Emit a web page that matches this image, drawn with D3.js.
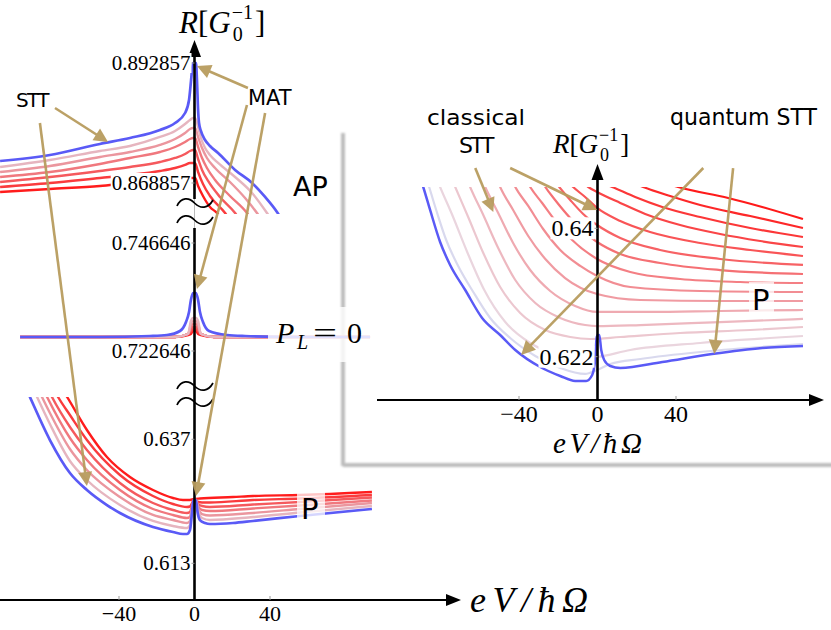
<!DOCTYPE html>
<html><head><meta charset="utf-8">
<script src="https://cdn.jsdelivr.net/npm/d3@7"></script>
<style>body{margin:0;background:#fff}svg{display:block}</style>
</head><body>
<svg id="c" width="831" height="630" xmlns="http://www.w3.org/2000/svg"></svg>
<script>
// ---------------- DATA (x = eV/ħΩ, y = R in units of G0^-1) ----------------
// AP branch (main panel, top segment): blue first, then pale pink -> red
const apSeries = [
 [[-103.0,0.87326],[-76.6,0.87446],[-50.1,0.87666],[-34.2,0.87786],[-18.3,0.87946],[-10.3,0.88086],[-5.0,0.88286],[-2.9,0.88546],[-1.9,0.88906],[-1.3,0.89146],[-0.8,0.89286],[0.8,0.89286],[1.3,0.88946],[1.9,0.88346],[2.4,0.88086],[3.4,0.87926],[5.6,0.87746],[8.2,0.87626],[12.5,0.87486],[21.5,0.87146],[30.5,0.86886],[37.4,0.86606],[43.7,0.86306],[47.9,0.86046]],
 [[-103.0,0.87206],[-76.6,0.87346],[-50.1,0.87526],[-34.2,0.87626],[-18.3,0.87806],[-10.3,0.87926],[-5.0,0.88066],[-2.4,0.88146],[-0.8,0.88186],[0.3,0.88186],[1.9,0.88006],[3.4,0.87786],[5.6,0.87586],[8.2,0.87446],[12.5,0.87286],[21.5,0.87006],[30.5,0.86686],[38.4,0.86286],[42.6,0.86046]],
 [[-103.0,0.87106],[-76.6,0.87226],[-50.1,0.87406],[-34.2,0.87506],[-18.3,0.87646],[-10.3,0.87766],[-5.0,0.87886],[-2.4,0.87966],[-0.8,0.87986],[0.3,0.87986],[1.9,0.87806],[4.0,0.87586],[6.6,0.87386],[10.9,0.87186],[18.8,0.86906],[26.8,0.86586],[33.1,0.86286],[37.4,0.86046]],
 [[-103.0,0.87006],[-76.6,0.87106],[-50.1,0.87266],[-34.2,0.87386],[-18.3,0.87506],[-10.3,0.87606],[-5.0,0.87706],[-2.4,0.87766],[-0.8,0.87786],[0.3,0.87786],[1.9,0.87606],[4.0,0.87386],[6.6,0.87186],[10.9,0.86946],[18.8,0.86626],[27.8,0.86286],[32.1,0.86046]],
 [[-103.0,0.86906],[-76.6,0.87006],[-50.1,0.87126],[-34.2,0.87206],[-18.3,0.87306],[-10.3,0.87386],[-5.0,0.87466],[-2.4,0.87526],[-0.8,0.87546],[0.3,0.87546],[1.9,0.87366],[4.0,0.87146],[7.2,0.86926],[13.5,0.86606],[21.5,0.86286],[25.7,0.86046]],
 [[-103.0,0.86806],[-76.6,0.86886],[-50.1,0.86986],[-34.2,0.87046],[-18.3,0.87126],[-10.3,0.87186],[-5.0,0.87246],[-2.4,0.87286],[-0.8,0.87286],[0.3,0.87286],[1.9,0.87106],[4.5,0.86866],[8.2,0.86626],[16.2,0.86286],[20.4,0.86046]],
 [[-103.0,0.86706],[-76.6,0.86766],[-50.1,0.86826],[-34.2,0.86886],[-18.3,0.86926],[-10.3,0.86946],[-5.0,0.86966],[-2.4,0.86986],[-0.8,0.86986],[0.3,0.86986],[1.9,0.86826],[4.5,0.86626],[8.2,0.86406],[11.9,0.86286],[16.2,0.86046]]
];
// P_L = 0 (main panel, middle segment)
const midSeries = [
 [[-92.4,0.72576],[-50.1,0.72576],[-23.6,0.72598],[-14.6,0.72620],[-7.7,0.72709],[-4.5,0.72909],[-2.9,0.73131],[-1.9,0.73398],[-0.8,0.73554],[0.8,0.73554],[1.9,0.73398],[2.9,0.73131],[4.5,0.72909],[7.7,0.72709],[17.2,0.72620],[26.8,0.72598],[55.9,0.72576],[93.0,0.72576]],
 [[-92.4,0.72576],[-10.3,0.72576],[-3.4,0.72642],[-1.9,0.72931],[-0.8,0.72998],[0.8,0.72998],[1.9,0.72931],[3.4,0.72642],[10.3,0.72576],[93.0,0.72576]],
 [[-92.4,0.72576],[-10.3,0.72576],[-3.4,0.72642],[-1.9,0.72865],[-0.8,0.72931],[0.8,0.72931],[1.9,0.72865],[3.4,0.72642],[10.3,0.72576],[93.0,0.72576]],
 [[-92.4,0.72576],[-10.3,0.72576],[-3.4,0.72642],[-1.9,0.72798],[-0.8,0.72865],[0.8,0.72865],[1.9,0.72798],[3.4,0.72642],[10.3,0.72576],[93.0,0.72576]],
 [[-92.4,0.72576],[-10.3,0.72576],[-3.4,0.72642],[-1.9,0.72731],[-0.8,0.72798],[0.8,0.72798],[1.9,0.72731],[3.4,0.72642],[10.3,0.72576],[93.0,0.72576]],
 [[-92.4,0.72576],[-10.3,0.72576],[-3.4,0.72642],[-1.9,0.72687],[-0.8,0.72754],[0.8,0.72754],[1.9,0.72687],[3.4,0.72642],[10.3,0.72576],[93.0,0.72576]],
 [[-92.4,0.72576],[-10.3,0.72576],[-3.4,0.72620],[-1.9,0.72642],[-0.8,0.72709],[0.8,0.72709],[1.9,0.72642],[3.4,0.72620],[10.3,0.72576],[93.0,0.72576]]
];
// P branch (main panel, bottom segment): blue first (lowest), then pale pink -> red (top)
const pSeries = [
 [[-92.4,0.64945],[-87.2,0.64519],[-76.6,0.63686],[-66.0,0.63048],[-57.0,0.62719],[-46.4,0.62428],[-39.5,0.62274],[-22.0,0.62003],[-11.4,0.61906],[-6.1,0.61867],[-4.0,0.61867],[-2.4,0.61944],[-1.3,0.62293],[-0.5,0.62525],[0.8,0.62525],[1.6,0.62293],[2.9,0.62138],[5.6,0.62080],[8.2,0.62061],[20.4,0.62080],[31.0,0.62119],[55.9,0.62215],[94.0,0.62351]],
 [[-88.7,0.64945],[-83.4,0.64519],[-76.6,0.63996],[-66.0,0.63280],[-57.0,0.62912],[-39.5,0.62428],[-22.0,0.62119],[-11.4,0.62022],[-4.0,0.61983],[-2.4,0.62041],[-1.3,0.62332],[-0.3,0.62525],[0.8,0.62525],[1.9,0.62332],[4.0,0.62177],[8.2,0.62138],[31.0,0.62196],[55.9,0.62283],[94.0,0.62409]],
 [[-86.1,0.64925],[-80.8,0.64519],[-76.6,0.64209],[-66.0,0.63512],[-57.0,0.63106],[-39.5,0.62583],[-22.0,0.62235],[-11.4,0.62138],[-4.0,0.62080],[-2.4,0.62119],[-1.3,0.62370],[-0.3,0.62525],[0.8,0.62525],[1.9,0.62370],[4.0,0.62254],[8.2,0.62225],[31.0,0.62274],[55.9,0.62351],[94.0,0.62467]],
 [[-83.4,0.64925],[-78.1,0.64519],[-66.0,0.63725],[-57.0,0.63299],[-39.5,0.62719],[-22.0,0.62351],[-11.4,0.62235],[-4.0,0.62177],[-2.4,0.62196],[-1.3,0.62390],[-0.3,0.62525],[0.8,0.62525],[1.9,0.62409],[4.0,0.62332],[8.2,0.62312],[31.0,0.62361],[55.9,0.62419],[94.0,0.62516]],
 [[-80.8,0.64925],[-75.5,0.64519],[-66.0,0.63938],[-57.0,0.63493],[-39.5,0.62854],[-22.0,0.62467],[-11.4,0.62332],[-4.0,0.62274],[-2.4,0.62293],[-1.3,0.62428],[-0.3,0.62525],[0.8,0.62525],[1.9,0.62448],[4.0,0.62409],[8.2,0.62390],[31.0,0.62438],[55.9,0.62486],[94.0,0.62574]],
 [[-77.6,0.64886],[-72.3,0.64519],[-66.0,0.64170],[-57.0,0.63686],[-39.5,0.63009],[-22.0,0.62603],[-11.4,0.62448],[-4.0,0.62390],[-2.4,0.62399],[-1.3,0.62467],[-0.3,0.62525],[0.8,0.62525],[1.9,0.62486],[4.0,0.62477],[8.2,0.62477],[31.0,0.62525],[55.9,0.62554],[94.0,0.62622]],
 [[-73.9,0.64886],[-67.5,0.64519],[-57.0,0.63880],[-46.4,0.63357],[-34.2,0.62970],[-22.0,0.62719],[-11.4,0.62564],[-6.1,0.62525],[-2.4,0.62525],[-0.3,0.62545],[2.9,0.62554],[20.4,0.62583],[31.0,0.62603],[55.9,0.62622],[94.0,0.62680]]
];
// Inset (P branch, classical vs quantum STT): blue, lavender, then pale pink -> red
const insetSeries = [
 [[-91.4,0.64789],[-88.8,0.64579],[-85.3,0.64257],[-80.2,0.63808],[-75.1,0.63486],[-67.4,0.63135],[-58.8,0.62743],[-49.6,0.62504],[-41.9,0.62294],[-29.2,0.62056],[-19.0,0.61930],[-11.4,0.61860],[-5.8,0.61860],[-2.7,0.61944],[-1.2,0.62154],[-0.4,0.62476],[0.1,0.62504],[0.9,0.62504],[1.9,0.62294],[3.4,0.62154],[6.5,0.62070],[11.6,0.62042],[33.0,0.62126],[58.4,0.62238],[83.9,0.62322],[104.7,0.62350]],
 [[-88.3,0.64789],[-85.8,0.64579],[-82.2,0.64257],[-77.1,0.63836],[-71.0,0.63472],[-63.3,0.63107],[-54.7,0.62743],[-44.5,0.62462],[-31.7,0.62210],[-19.0,0.62042],[-6.3,0.61958],[-0.2,0.62014],[6.5,0.62098],[21.8,0.62168],[52.3,0.62266],[82.9,0.62336],[104.7,0.62378]],
 [[-83.7,0.64817],[-80.2,0.64579],[-74.0,0.64186],[-66.4,0.63668],[-57.7,0.63135],[-47.0,0.62686],[-34.3,0.62392],[-21.6,0.62238],[-8.8,0.62182],[-0.2,0.62196],[16.7,0.62294],[52.3,0.62392],[104.7,0.62490]],
 [[-76.1,0.64817],[-72.5,0.64579],[-65.9,0.64158],[-58.2,0.63654],[-49.6,0.63177],[-39.4,0.62813],[-26.6,0.62574],[-13.9,0.62476],[-3.7,0.62448],[11.6,0.62476],[42.1,0.62532],[77.8,0.62574],[104.7,0.62616]],
 [[-68.4,0.64817],[-64.9,0.64579],[-58.2,0.64186],[-50.6,0.63724],[-41.9,0.63275],[-31.7,0.62953],[-19.0,0.62743],[-6.3,0.62644],[-0.2,0.62630],[21.8,0.62644],[62.5,0.62686],[104.7,0.62729]],
 [[-60.8,0.64817],[-57.2,0.64579],[-50.6,0.64215],[-43.0,0.63794],[-34.3,0.63415],[-24.1,0.63121],[-11.4,0.62911],[-0.2,0.62827],[26.8,0.62827],[62.5,0.62841],[104.7,0.62855]],
 [[-53.1,0.64817],[-49.6,0.64579],[-43.0,0.64257],[-35.3,0.63892],[-26.6,0.63570],[-16.5,0.63303],[-0.2,0.63079],[21.8,0.62995],[62.5,0.62981],[104.7,0.62981]],
 [[-45.5,0.64789],[-41.9,0.64579],[-35.3,0.64313],[-27.7,0.63990],[-19.0,0.63696],[-8.8,0.63472],[-0.2,0.63331],[16.7,0.63177],[52.3,0.63121],[104.7,0.63107]],
 [[-38.4,0.64789],[-34.3,0.64579],[-28.2,0.64355],[-21.0,0.64088],[-12.9,0.63836],[-0.2,0.63570],[16.7,0.63387],[42.1,0.63289],[72.7,0.63247],[104.7,0.63233]],
 [[-30.7,0.64775],[-26.6,0.64579],[-21.6,0.64397],[-13.9,0.64144],[-6.3,0.63934],[-0.2,0.63808],[11.6,0.63640],[31.9,0.63514],[62.5,0.63415],[104.7,0.63359]],
 [[-24.1,0.64747],[-19.5,0.64579],[-13.9,0.64397],[-7.3,0.64201],[-0.2,0.64046],[11.6,0.63864],[31.9,0.63696],[62.5,0.63570],[104.7,0.63486]],
 [[-17.5,0.64733],[-12.4,0.64579],[-6.3,0.64439],[-0.2,0.64285],[11.6,0.64102],[26.8,0.63948],[52.3,0.63794],[77.8,0.63696],[104.7,0.63612]],
 [[-9.8,0.64705],[-4.7,0.64579],[-0.2,0.64509],[11.6,0.64355],[24.3,0.64201],[42.1,0.64046],[62.5,0.63920],[82.9,0.63822],[104.7,0.63738]],
 [[2.4,0.64635],[7.5,0.64579],[19.2,0.64439],[33.0,0.64299],[52.3,0.64158],[77.8,0.64004],[104.7,0.63878]],
 [[18.2,0.64635],[23.3,0.64579],[37.0,0.64453],[52.3,0.64327],[77.8,0.64172],[104.7,0.64004]],
 [[34.5,0.64635],[41.1,0.64579],[66.6,0.64425],[83.9,0.64299],[104.7,0.64130]]
];
// tick values and labels
const mainXTicks = [-40, 0, 40];
const apTicks = [0.892857, 0.868857];
const midTicks = [0.746646, 0.722646];
const pTicks = [0.637, 0.613];
const insetXTicks = [-40, 0, 40];
const insetYTicks = [0.64, 0.622];
// annotation arrows [segment, x, R] -> [segment, x, R]
const mainArrows = [
 [["AP",-73.9,0.88386],["AP",-45.8,0.87706]],
 [["AP",-81.9,0.88086],["P",-57.0,0.62796]],
 [["AP",28.3,0.88786],["AP",1.3,0.89226]],
 [["AP",27.8,0.88446],["MID",1.3,0.73640]],
 [["AP",37.4,0.88286],["P",0.8,0.62603]]
];
const insetArrows = [
 [[-62.3,0.64845],[-53.1,0.64229]],
 [[-44.5,0.64845],[-0.2,0.64257]],
 [[53.9,0.64845],[-38.9,0.62224]],
 [[69.1,0.64845],[59.5,0.62238]]
];

// ---------------- SCALES ----------------
const xMain = d3.scaleLinear().domain([-40,40]).range([119,270]);
const yAP = d3.scaleLinear().domain([0.868857,0.892857]).range([183,63]);
const yMid = d3.scaleLinear().domain([0.722646,0.746646]).range([351,243]);
const yP = d3.scaleLinear().domain([0.613,0.637]).range([563.3,439.3]);
const xIn = d3.scaleLinear().domain([-40,40]).range([519,676]);
const yIn = d3.scaleLinear().domain([0.622,0.64]).range([356.7,228.3]);
const segScale = {AP:yAP, MID:yMid, P:yP};

const BLUE = "#5a5af6";
const mainColor = k => k===0 ? BLUE : d3.interpolateRgb("#e6b5bf","#ff1c1c")((k-1)/5);
const insetColor = k => k===0 ? BLUE : (k===1 ? "#d9d9ee" : d3.interpolateRgb("#ead5de","#ff1a1a")((k-2)/13));
const TAN = "#b89c5e";
const SERIF = "'Liberation Serif','DejaVu Serif',serif";
const SANS = "'DejaVu Sans',sans-serif";

const svg = d3.select("#c");
const defs = svg.append("defs");
defs.append("clipPath").attr("id","clipAP").append("rect").attr("x",0).attr("y",60).attr("width",500).attr("height",154);
defs.append("clipPath").attr("id","clipP").append("rect").attr("x",0).attr("y",397).attr("width",500).attr("height",200);
defs.append("clipPath").attr("id","clipIn").append("rect").attr("x",377).attr("y",187).attr("width",430).attr("height",213);
const blur = defs.append("filter").attr("id","soft").attr("x","-50%").attr("y","-5%").attr("width","200%").attr("height","110%");
blur.append("feGaussianBlur").attr("stdDeviation",1.2);

function drawCurves(g, series, xs, ys, colorFn, w){
  const line = d3.line().x(d=>xs(d[0])).y(d=>ys(d[1])).curve(d3.curveMonotoneX);
  for(let k=series.length-1;k>=0;k--){
    g.append("path").attr("d",line(series[k])).attr("fill","none")
     .attr("stroke",colorFn(k)).attr("stroke-width",k===0? w+0.3 : w)
     .attr("stroke-linejoin","round");
  }
}
function arrowhead(g,x1,y1,x2,y2,color,hl,hw,sw){
  const dx=x2-x1, dy=y2-y1, L=Math.hypot(dx,dy), ux=dx/L, uy=dy/L;
  const bx=x2-ux*hl, by=y2-uy*hl;
  g.append("line").attr("x1",x1).attr("y1",y1).attr("x2",bx+ux*2).attr("y2",by+uy*2)
    .attr("stroke",color).attr("stroke-width",sw);
  g.append("path").attr("d",`M${x2},${y2}L${bx-uy*hw},${by+ux*hw}L${bx+uy*hw},${by-ux*hw}Z`).attr("fill",color);
}
function labelBg(g, textSel, pad){
  const b = textSel.node().getBBox();
  g.insert("rect", () => textSel.node()).attr("x",b.x-pad).attr("y",b.y+2).attr("width",b.width+2*pad).attr("height",b.height-4).attr("fill","#fff");
}
// R[G_0^{-1}] label built from separate text pieces (no overlapping boxes)
function rLabel(x, y, fs, sfs){
  const g = svg.append("g").attr("font-family",SERIF);
  const t1 = g.append("text").attr("x",x).attr("y",y).attr("font-size",fs);
  t1.append("tspan").attr("font-style","italic").text("R");
  t1.append("tspan").text("[");
  t1.append("tspan").attr("font-style","italic").text("G");
  const w = t1.node().getComputedTextLength();
  const xs = x + w + 1;
  const sup = g.append("text").attr("x",xs).attr("y",y - fs*0.45).attr("font-size",sfs).text("\u22121");
  g.append("text").attr("x",xs+1).attr("y",y + sfs*0.42).attr("font-size",sfs).text("0");
  const ws = sup.node().getComputedTextLength();
  g.append("text").attr("x",xs+ws+2).attr("y",y).attr("font-size",fs).text("]");
}
const fmtX = v => v<0 ? "\u2212"+Math.abs(v) : String(v);

// ---------------- INSET FRAME (shadow) ----------------
const frame = svg.append("g").attr("filter","url(#soft)");
frame.append("line").attr("x1",343).attr("y1",133).attr("x2",343).attr("y2",466).attr("stroke","#bdbdbd").attr("stroke-width",4);
frame.append("line").attr("x1",343).attr("y1",465).attr("x2",835).attr("y2",465).attr("stroke","#bdbdbd").attr("stroke-width",4);

// ---------------- MAIN CURVES ----------------
drawCurves(svg.append("g").attr("clip-path","url(#clipAP)"), apSeries, xMain, yAP, mainColor, 2.4);
drawCurves(svg.append("g"), midSeries, xMain, yMid, mainColor, 2.4);
drawCurves(svg.append("g").attr("clip-path","url(#clipP)"), pSeries, xMain, yP, mainColor, 2.4);

// ---------------- MAIN AXES ----------------
const ax = svg.append("g");
const x0 = xMain(0);
ax.append("line").attr("x1",0).attr("y1",600).attr("x2",448).attr("y2",600).attr("stroke","#000").attr("stroke-width",2.2);
ax.append("path").attr("d","M461,600L446,594L446,606Z").attr("fill","#000");
ax.append("line").attr("x1",x0).attr("y1",601).attr("x2",x0).attr("y2",228).attr("stroke","#000").attr("stroke-width",2.6);
ax.append("line").attr("x1",x0).attr("y1",228).attr("x2",x0).attr("y2",199).attr("stroke","#bbb").attr("stroke-width",1);
ax.append("line").attr("x1",x0).attr("y1",199).attr("x2",x0).attr("y2",54).attr("stroke","#000").attr("stroke-width",2.6);
ax.append("path").attr("d",`M${x0},40L${x0-6.5},57L${x0+6.5},57Z`).attr("fill","#000");
// break marks
[203,220,386,402].forEach(yc=>{
  ax.append("path").attr("d",`M177,${yc+3}C181,${yc-6} 189,${yc-6} ${x0},${yc}C${x0+6},${yc+6} 208,${yc+6} 213,${yc-3}`)
    .attr("fill","none").attr("stroke","#000").attr("stroke-width",1.7);
});
// y ticks and labels
const tickG = svg.append("g");
[[apTicks,yAP],[midTicks,yMid],[pTicks,yP]].forEach(([ticks,sc])=>{
  ticks.forEach(v=>{
    tickG.append("line").attr("x1",x0-5).attr("x2",x0).attr("y1",sc(v)).attr("y2",sc(v)).attr("stroke","#999").attr("stroke-width",1);
    const t = tickG.append("text").attr("x",x0-4).attr("y",sc(v)+7).attr("text-anchor","end")
      .attr("font-family",SERIF).attr("font-size",21).text(String(v));
    labelBg(tickG,t,1);
  });
});
mainXTicks.forEach(v=>{
  if(v!==0) tickG.append("line").attr("x1",xMain(v)).attr("x2",xMain(v)).attr("y1",596).attr("y2",600).attr("stroke","#999").attr("stroke-width",1);
  tickG.append("text").attr("x",xMain(v)).attr("y",621).attr("text-anchor","middle")
    .attr("font-family",SERIF).attr("font-size",22).text(fmtX(v));
});
// axis labels
rLabel(179, 33, 31, 20);
svg.append("text").attr("x",470).attr("y",612).attr("font-family",SERIF).attr("font-style","italic").attr("font-size",36)
  .attr("textLength",118).attr("lengthAdjust","spacing").text("eV/\u0127\u03A9");

// P_L = 0 label with translucent box
svg.append("rect").attr("x",268).attr("y",307).attr("width",105).attr("height",55).attr("fill","#fff").attr("opacity",0.82);
const pl = svg.append("text").attr("y",343).attr("font-family",SERIF).attr("font-size",30);
pl.append("tspan").attr("x",276).attr("font-style","italic").text("P");
pl.append("tspan").attr("x",297).attr("dy",6).attr("font-style","italic").attr("font-size",20).text("L");
pl.append("tspan").attr("x",313).attr("dy",-6).attr("textLength",24).attr("lengthAdjust","spacingAndGlyphs").text("=");
pl.append("tspan").attr("x",347).text("0");
// P label box
svg.append("rect").attr("x",297).attr("y",489).attr("width",28).attr("height",38).attr("fill","#fff").attr("opacity",0.75);
svg.append("text").attr("x",301).attr("y",519).attr("font-family",SANS).attr("font-size",29).text("P");
svg.append("text").attr("x",293).attr("y",196).attr("font-family",SANS).attr("font-size",27).text("AP");
svg.append("text").attr("x",16).attr("y",107).attr("font-family",SANS).attr("font-size",20).attr("textLength",32).attr("lengthAdjust","spacing").attr("letter-spacing",-1.5).text("STT");
svg.append("text").attr("x",248).attr("y",105).attr("font-family",SANS).attr("font-size",21).text("MAT");

// ---------------- INSET ----------------
drawCurves(svg.append("g").attr("clip-path","url(#clipIn)"), insetSeries, xIn, yIn, insetColor, 2.2);
const ix0 = xIn(0);
const iax = svg.append("g");
iax.append("line").attr("x1",377).attr("y1",400).attr("x2",811).attr("y2",400).attr("stroke","#000").attr("stroke-width",2.2);
iax.append("path").attr("d","M824,400L809,394L809,406Z").attr("fill","#000");
iax.append("line").attr("x1",ix0).attr("y1",401).attr("x2",ix0).attr("y2",178).attr("stroke","#000").attr("stroke-width",2.6);
iax.append("path").attr("d",`M${ix0},164L${ix0-6},180L${ix0+6},180Z`).attr("fill","#000");
insetYTicks.forEach(v=>{
  iax.append("line").attr("x1",ix0-5).attr("x2",ix0).attr("y1",yIn(v)).attr("y2",yIn(v)).attr("stroke","#999");
  const t = iax.append("text").attr("x",ix0-4).attr("y",yIn(v)+8).attr("text-anchor","end")
    .attr("font-family",SERIF).attr("font-size",24).text(String(v));
  labelBg(iax,t,1);
});
insetXTicks.forEach(v=>{
  if(v!==0) iax.append("line").attr("x1",xIn(v)).attr("x2",xIn(v)).attr("y1",396).attr("y2",400).attr("stroke","#999");
  iax.append("text").attr("x",xIn(v)).attr("y",422).attr("text-anchor","middle")
    .attr("font-family",SERIF).attr("font-size",24).text(fmtX(v));
});
rLabel(553, 153, 27, 18);
svg.append("text").attr("x",553).attr("y",453).attr("font-family",SERIF).attr("font-style","italic").attr("font-size",29)
  .attr("textLength",89).attr("lengthAdjust","spacing").text("eV/\u0127\u03A9");
svg.append("rect").attr("x",749).attr("y",282).attr("width",25).attr("height",34).attr("fill","#fff").attr("opacity",0.75);
svg.append("text").attr("x",752).attr("y",310).attr("font-family",SANS).attr("font-size",29).text("P");
svg.append("text").attr("x",427).attr("y",125).attr("font-family",SANS).attr("font-size",22).attr("textLength",98).attr("lengthAdjust","spacingAndGlyphs").text("classical");
svg.append("text").attr("x",459).attr("y",153).attr("font-family",SANS).attr("font-size",22).attr("textLength",34).attr("lengthAdjust","spacing").attr("letter-spacing",-1.5).text("STT");
svg.append("text").attr("x",670).attr("y",125).attr("font-family",SANS).attr("font-size",23).attr("textLength",147).attr("lengthAdjust","spacingAndGlyphs").text("quantum STT");

// ---------------- ARROWS ----------------
const ag = svg.append("g").attr("opacity",0.95);
mainArrows.forEach(([a,b])=>{
  arrowhead(ag, xMain(a[1]), segScale[a[0]](a[2]), xMain(b[1]), segScale[b[0]](b[2]), TAN, 14, 7, 2.6);
});
insetArrows.forEach(([a,b])=>{
  arrowhead(ag, xIn(a[0]), yIn(a[1]), xIn(b[0]), yIn(b[1]), TAN, 14, 7, 2.6);
});
</script>
</body></html>
